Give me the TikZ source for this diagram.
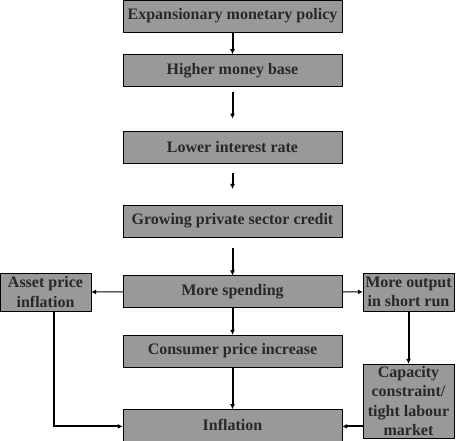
\documentclass[tikz,border=0pt]{standalone}
\usepackage{fontspec}
\setmainfont{Liberation Serif}
\usetikzlibrary{positioning,arrows.meta}
\definecolor{boxgray}{RGB}{153,153,153}
\definecolor{txtgray}{RGB}{40,40,40}
\begin{document}
\begin{tikzpicture}[x=1pt,y=-1pt]
		\tikzstyle{main}=[rectangle, draw=black, fill=boxgray, text=txtgray, font=\bfseries\fontsize{16}{19.3}\selectfont, inner sep=0pt, minimum width=219pt, minimum height=32pt, node distance=22pt]
		\tikzstyle{side}=[main, minimum width=91pt, minimum height=38pt, align=center]
		\tikzstyle{connect}=[draw, line width=2pt, -{Latex[length=5pt,width=5pt]}]
		\tikzstyle{sidearrow}=[draw, line width=0.9pt, -{Latex[length=5pt,width=5pt]}]
		\useasboundingbox (0,0) rectangle (467,441);
		\node[main] (policy) at (232.5,16)               {Expansionary monetary policy};
		\node[main] (base)   [below=22pt of policy]     {Higher money base};
		\node[main] (rate)   [below=44pt of base]       {Lower interest rate};
		\node[main] (credit) [below=42pt of rate]       {Growing private sector credit};
		\node[main] (spend)  [below=38pt of credit]     {More spending};
		\node[main] (cpi)    [below=27pt of spend]      {Consumer price increase};
		\node[main] (infl)   [below=42pt of cpi]        {Inflation};
		
		\node[side] (asset)  at (45.5,292)   {Asset price\\inflation};
		\node[side] (output) at (408.5,292)  {More output\\in short run};
		\node[side, minimum height=74pt] (capac) at (408.5,401) {Capacity\\constraint/\\tight labour\\market};
		
		\coordinate (inflW) at ([yshift=-1pt]infl.west);
		\coordinate (inflE) at ([yshift=-1pt]infl.east);
		
		\draw[connect] (policy) -- (base);
		\draw[connect, shorten <=5pt, shorten >=12pt] (base) -- (rate);
		\draw[connect, shorten <=10pt, shorten >=16pt] (rate) -- (credit);
		\draw[connect, shorten <=11pt] (credit) -- (spend);
		\draw[connect] (spend) -- (cpi);
		\draw[connect] (cpi) -- (infl);
		\draw[sidearrow] (spend) -- (asset);
		\draw[sidearrow] (spend) -- (output);
		\draw[connect] (output) -- (capac);
		\draw[connect] ([xshift=8.5pt]asset.south) |- (inflW);
		\draw[connect] (capac.west |- inflE) -- (inflE);
		
		\end{tikzpicture}
\end{document}
